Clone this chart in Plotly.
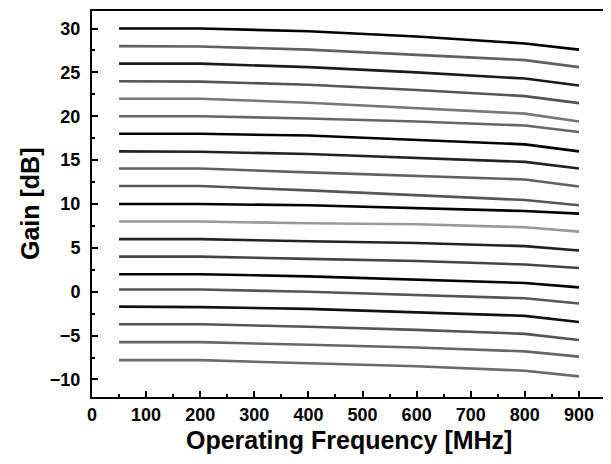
import plotly.graph_objects as go

# frequency points of every gain curve [MHz]
freq = [50, 200, 400, 600, 800, 900]

# gain curves [dB], top to bottom
g30 = [30.0, 30.0, 29.7, 29.1, 28.3, 27.6]
g28 = [28.0, 27.95, 27.6, 27.0, 26.4, 25.6]
g26 = [26.0, 26.0, 25.6, 25.0, 24.3, 23.5]
g24 = [24.0, 23.95, 23.6, 23.0, 22.3, 21.5]
g22 = [22.0, 22.0, 21.55, 20.9, 20.3, 19.4]
g20 = [20.0, 20.0, 19.75, 19.4, 18.95, 18.2]
g18 = [18.0, 18.0, 17.8, 17.3, 16.8, 16.0]
g16 = [16.0, 15.95, 15.7, 15.25, 14.8, 14.05]
g14 = [14.05, 14.05, 13.6, 13.2, 12.8, 12.0]
g12 = [12.05, 12.05, 11.55, 11.0, 10.45, 9.85]
g10 = [10.0, 10.0, 9.85, 9.55, 9.2, 8.9]
g8 = [8.0, 8.0, 7.8, 7.7, 7.35, 6.85]
g6 = [6.0, 6.0, 5.75, 5.55, 5.2, 4.7]
g4 = [4.0, 4.0, 3.75, 3.5, 3.1, 2.7]
g2 = [2.0, 2.0, 1.75, 1.4, 1.0, 0.5]
g0 = [0.25, 0.25, 0.0, -0.35, -0.75, -1.35]
gm2 = [-1.7, -1.75, -1.95, -2.35, -2.75, -3.45]
gm4 = [-3.7, -3.7, -4.0, -4.35, -4.8, -5.5]
gm6 = [-5.75, -5.75, -6.05, -6.35, -6.8, -7.4]
gm8 = [-7.8, -7.8, -8.15, -8.5, -9.0, -9.65]

curves = [g30, g28, g26, g24, g22, g20, g18, g16, g14, g12,
          g10, g8, g6, g4, g2, g0, gm2, gm4, gm6, gm8]
colors = ["#000000", "#606060", "#1a1a1a", "#555555", "#777777",
          "#666666", "#000000", "#222222", "#606060", "#555555",
          "#000000", "#999999", "#222222", "#444444", "#000000",
          "#555555", "#111111", "#555555", "#666666", "#6a6a6a"]

fig = go.Figure()
for g, c in zip(curves, colors):
    fig.add_trace(go.Scatter(x=freq, y=g, mode="lines",
                             line=dict(color=c, width=2.6),
                             showlegend=False))

font_family = "Liberation Sans, Arial, sans-serif"
axis_common = dict(
    showline=True, linewidth=2, linecolor="black", mirror=True,
    ticks="inside", ticklen=6, tickwidth=2, tickcolor="black",
    showgrid=False, zeroline=False, automargin=False,
    tickfont=dict(family=font_family, size=18, color="black", weight="bold"),
)
fig.update_xaxes(
    range=[0, 950], dtick=100, tick0=0, ticklabelstandoff=0,
    minor=dict(dtick=50, ticks="inside", ticklen=3, tickwidth=2, tickcolor="black"),
    **axis_common,
)
fig.update_yaxes(
    range=[-12, 32], dtick=5, tick0=0, ticklabelstandoff=6,
    minor=dict(dtick=2.5, ticks="inside", ticklen=3, tickwidth=2, tickcolor="black"),
    **axis_common,
)

# the page body adds an 8px offset, so margins are shifted to compensate
title_font = dict(family=font_family, size=25, color="black", weight="bold")
fig.add_annotation(text="Operating Frequency [MHz]", xref="paper", yref="paper",
                   x=0.5, y=0, xanchor="center", yanchor="middle", yshift=-43,
                   showarrow=False, font=title_font)
fig.add_annotation(text="Gain [dB]", xref="paper", yref="paper",
                   x=0, y=0.5, xanchor="center", yanchor="middle", xshift=-62,
                   textangle=-90, showarrow=False, font=title_font)

fig.update_layout(
    width=611, height=464,
    margin=dict(l=84, r=13, t=3, b=75),
    plot_bgcolor="white", paper_bgcolor="white",
)

fig.write_html("out.html")
